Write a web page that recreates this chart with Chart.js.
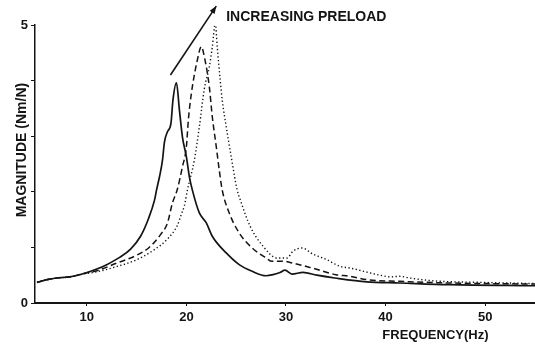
<!DOCTYPE html>
<html><head><meta charset="utf-8">
<script src="https://cdn.jsdelivr.net/npm/chart.js@4/dist/chart.umd.min.js"></script>
<style>html,body{margin:0;padding:0;background:#fff}</style>
</head><body>
<canvas id="c" width="535" height="346"></canvas>
<script>
// ---- data ----
const xTickValues = [10, 20, 30, 40, 50];
const yTickValues = [0, 1, 2, 3, 4, 5];
const yTickLabels = ['0', '', '', '', '', '5'];
const xTitle = 'FREQUENCY(Hz)';
const yTitle = 'MAGNITUDE (Nm/N)';
const annotationText = 'INCREASING PRELOAD';

const lowPreloadFreq = [5, 6, 7, 8.3, 9.9, 11, 12, 13.3, 14.4, 15.4, 16.2, 16.8, 17.0, 17.3, 17.6, 17.8, 18.1, 18.45, 18.65, 19.0, 19.3, 19.6, 20.0, 20.3, 20.6, 21.3, 22.0, 22.6, 24.0, 25.3, 26.6, 28.0, 28.7, 29.4, 29.9, 30.6, 31.7, 33.1, 34.9, 38.1, 41.4, 46.4, 55];
const lowPreloadMag  = [0.37, 0.42, 0.45, 0.47, 0.54, 0.61, 0.69, 0.82, 0.97, 1.20, 1.52, 1.85, 2.03, 2.27, 2.57, 2.90, 3.08, 3.23, 3.65, 3.96, 3.47, 2.99, 2.63, 2.27, 2.03, 1.62, 1.44, 1.20, 0.90, 0.69, 0.57, 0.49, 0.51, 0.55, 0.59, 0.52, 0.55, 0.50, 0.45, 0.38, 0.36, 0.33, 0.31];

const midPreloadFreq = [5, 6, 7, 8.3, 9.9, 11, 12.9, 14.9, 16.2, 17.4, 18.1, 18.6, 19.1, 19.6, 20.0, 20.2, 20.5, 21.1, 21.5, 21.8, 22.3, 22.6, 23.0, 23.3, 23.6, 24.3, 25.3, 26.6, 28.0, 28.6, 29.8, 30.4, 32.6, 35.0, 36.4, 38.1, 41.4, 46.4, 55];
const midPreloadMag  = [0.37, 0.42, 0.45, 0.47, 0.54, 0.58, 0.71, 0.85, 0.99, 1.23, 1.44, 1.80, 2.05, 2.45, 2.81, 3.30, 3.77, 4.37, 4.61, 4.43, 3.89, 3.35, 2.81, 2.39, 2.03, 1.62, 1.26, 0.99, 0.81, 0.75, 0.75, 0.73, 0.63, 0.51, 0.48, 0.42, 0.39, 0.36, 0.34];

const highPreloadFreq = [5, 6, 7, 8.3, 9.9, 11, 12.9, 14.9, 16.7, 18.2, 19.1, 19.5, 19.8, 20.1, 20.8, 21.3, 21.8, 22.3, 22.6, 22.9, 23.1, 23.4, 23.6, 24.0, 24.5, 25.1, 25.4, 26.4, 27.7, 29.1, 30.1, 30.7, 31.6, 32.7, 34.1, 35.4, 36.4, 39.7, 40.5, 41.4, 42.4, 44.7, 49.7, 55];
const highPreloadMag  = [0.37, 0.42, 0.45, 0.47, 0.53, 0.56, 0.65, 0.77, 0.95, 1.17, 1.40, 1.60, 1.75, 2.03, 2.57, 3.17, 3.85, 4.25, 4.60, 5.03, 4.60, 4.00, 3.65, 3.17, 2.63, 2.03, 1.86, 1.38, 1.02, 0.81, 0.81, 0.93, 0.99, 0.88, 0.78, 0.66, 0.63, 0.49, 0.47, 0.48, 0.45, 0.40, 0.37, 0.35];

// annotation arrow (data units): start, end; label anchor
const arrowFreq = [18.4, 23.0];
const arrowMag  = [4.10, 5.34];
const labelFreq = 24.0;
const labelMag  = 5.15;

const FONT = '"Liberation Sans", Arial, Helvetica, sans-serif';
const INK = '#141414';

function pts(xs, ys) { return xs.map((x, i) => ({x: x, y: ys[i]})); }

const textPlugin = {
  id: 'texts',
  afterDraw(chart) {
    const {ctx, scales: {x, y}, chartArea} = chart;
    ctx.save();
    ctx.fillStyle = INK;
    ctx.strokeStyle = INK;
    // arrow
    const x1 = x.getPixelForValue(arrowFreq[0]), y1 = y.getPixelForValue(arrowMag[0]);
    const x2 = x.getPixelForValue(arrowFreq[1]), y2 = y.getPixelForValue(arrowMag[1]);
    ctx.lineWidth = 1.6;
    ctx.beginPath(); ctx.moveTo(x1, y1); ctx.lineTo(x2, y2); ctx.stroke();
    const ang = Math.atan2(y2 - y1, x2 - x1);
    const hl = 8;
    ctx.beginPath();
    ctx.moveTo(x2, y2);
    ctx.lineTo(x2 - hl * Math.cos(ang - 0.38), y2 - hl * Math.sin(ang - 0.38));
    ctx.lineTo(x2 - hl * Math.cos(ang + 0.38), y2 - hl * Math.sin(ang + 0.38));
    ctx.closePath(); ctx.fill();
    // annotation label
    ctx.font = 'bold 14px ' + FONT;
    ctx.textAlign = 'left'; ctx.textBaseline = 'middle';
    ctx.fillText(annotationText, x.getPixelForValue(labelFreq), y.getPixelForValue(labelMag));
    // x title
    ctx.font = 'bold 13px ' + FONT;
    ctx.textAlign = 'center';
    ctx.fillText(xTitle, x.getPixelForValue(45.0), chartArea.bottom + 32);
    // y title
    ctx.font = 'bold 14px ' + FONT;
    ctx.translate(chartArea.left - 13, y.getPixelForValue(2.75));
    ctx.rotate(-Math.PI / 2);
    ctx.fillText(yTitle, 0, 0);
    ctx.restore();
  }
};

const common = {pointRadius: 0, borderColor: INK, fill: false, cubicInterpolationMode: 'monotone', showLine: true};

new Chart(document.getElementById('c'), {
  type: 'scatter',
  data: {
    datasets: [
      Object.assign({label: 'low preload', data: pts(lowPreloadFreq, lowPreloadMag), borderWidth: 1.7}, common),
      Object.assign({label: 'mid preload', data: pts(midPreloadFreq, midPreloadMag), borderWidth: 1.5, borderDash: [6, 3.5]}, common),
      Object.assign({label: 'high preload', data: pts(highPreloadFreq, highPreloadMag), borderWidth: 1.4, borderDash: [1.3, 2.4]}, common)
    ]
  },
  options: {
    responsive: false,
    animation: false,
    devicePixelRatio: 1,
    layout: {padding: {top: 25, right: 0, left: 0, bottom: 0}},
    plugins: {legend: {display: false}, tooltip: {enabled: false}},
    scales: {
      x: {
        type: 'linear', min: 4.8, max: 55,
        afterFit(s) { s.height = 43; },
        afterBuildTicks(s) { s.ticks = xTickValues.map(v => ({value: v})); },
        grid: {display: true, drawOnChartArea: false, drawTicks: true, tickLength: 3, color: INK, lineWidth: 1},
        border: {display: true, color: INK, width: 2},
        ticks: {color: INK, font: {family: FONT, size: 13, weight: 'bold'}, padding: 4, maxRotation: 0}
      },
      y: {
        type: 'linear', min: 0, max: 5,
        afterFit(s) { s.width = 35; },
        afterBuildTicks(s) { s.ticks = yTickValues.map(v => ({value: v})); },
        grid: {display: true, drawOnChartArea: false, drawTicks: true, tickLength: 4, color: INK, lineWidth: 1},
        border: {display: true, color: INK, width: 1.5},
        ticks: {color: INK, font: {family: FONT, size: 13, weight: 'bold'}, padding: 3,
          callback: (v) => { const i = yTickValues.indexOf(v); return i >= 0 ? yTickLabels[i] : ''; }}
      }
    }
  },
  plugins: [textPlugin]
});
</script>
</body></html>
